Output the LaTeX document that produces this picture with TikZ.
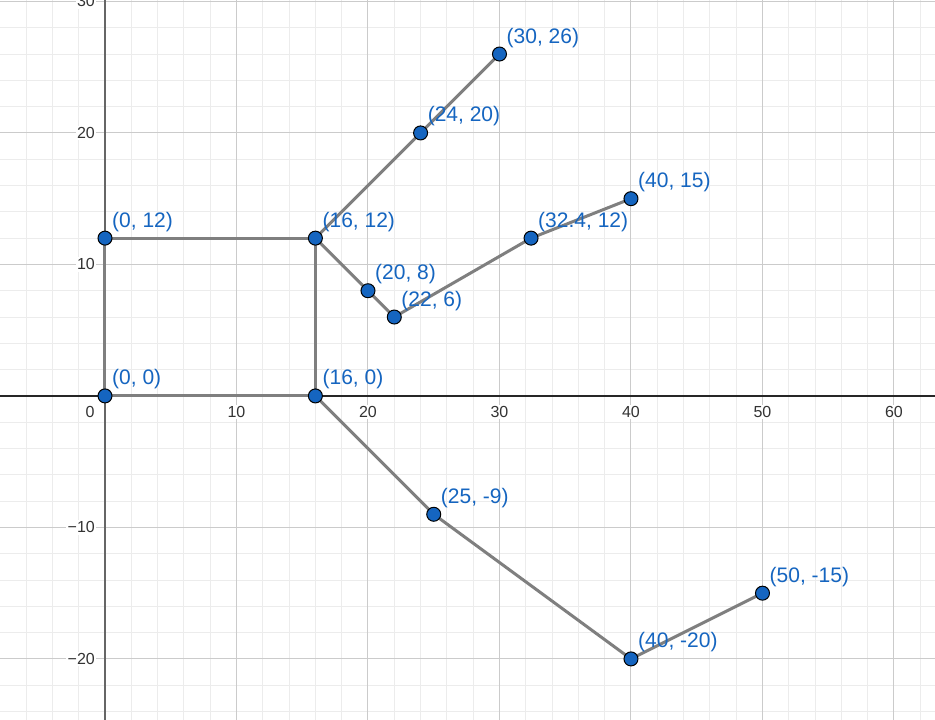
\documentclass[tikz,border=0pt]{standalone}
\usepackage{fontspec}
\setmainfont{Liberation Sans}
\definecolor{ptblue}{HTML}{1565C0}
\definecolor{seggray}{HTML}{7F7F7F}
\definecolor{majgrid}{HTML}{CBCBCB}
\definecolor{mingrid}{HTML}{ECECEC}
\definecolor{ticktxt}{HTML}{333333}
\definecolor{yaxis}{HTML}{666666}
\pgfdeclarelayer{gridlayer}
\pgfdeclarelayer{seglayer}
\pgfsetlayers{gridlayer,seglayer,main}
\begin{document}
\begin{tikzpicture}[x=13.15pt,y=13.15pt,
  pt/.style={circle,fill=ptblue,draw=black,line width=1pt,inner sep=0pt,minimum size=14pt},
  ptlabel/.style={anchor=base west,text=ptblue,font=\fontsize{21}{25}\selectfont,inner sep=0pt,xshift=7pt,yshift=11pt},
  seg/.style={draw=seggray,line width=3pt,line cap=round},
  ticklab/.style={fill=white,text=ticktxt,font=\fontsize{16}{19}\selectfont,inner sep=1.5pt}]
\useasboundingbox (-7.985,-24.64) rectangle (63.12,30.11);
\clip (-7.985,-24.64) rectangle (63.12,30.11);
\begin{pgfonlayer}{gridlayer}
  \fill[white] (-7.985,-24.64) rectangle (63.12,30.11);
  \draw[mingrid,line width=1pt] (-8,-26) grid[step=2] (64,32);
  \draw[majgrid,line width=1pt] (-10,-30) grid[step=10] (70,40);
  \draw[yaxis,line width=2pt] (0,-26) -- (0,32);
  \draw[black!85,line width=1.3pt] (-9,0) -- (65,0);
\end{pgfonlayer}
% tick labels
\node[ticklab] (x0) at (0,0) [xshift=-15pt,yshift=-16pt] {0};
\foreach \v in {10,20,30,40,50,60}{
  \node[ticklab] (x\v) at (\v,0) [yshift=-16pt] {\v};
}
\node[ticklab,anchor=east] (y10) at (0,10) [xshift=-8.5pt] {10};
\node[ticklab,anchor=east] (y20) at (0,20) [xshift=-8.5pt] {20};
\node[ticklab,anchor=east] (y30) at (0,30) [xshift=-8.5pt] {30};
\node[ticklab,anchor=east] (ym10) at (0,-10) [xshift=-8.5pt] {−10};
\node[ticklab,anchor=east] (ym20) at (0,-20) [xshift=-8.5pt] {−20};
% points
\node[pt] (a) at (0,0) {};
\node[pt] (b) at (0,12) {};
\node[pt] (c) at (16,12) {};
\node[pt] (d) at (16,0) {};
\node[pt] (e) at (24,20) {};
\node[pt] (f) at (30,26) {};
\node[pt] (g) at (20,8) {};
\node[pt] (h) at (22,6) {};
\node[pt] (i) at (32.4,12) {};
\node[pt] (j) at (40,15) {};
\node[pt] (k) at (25,-9) {};
\node[pt] (l) at (40,-20) {};
\node[pt] (m) at (50,-15) {};
% labels
\node[ptlabel] (la) at (a.center) {(0, 0)};
\node[ptlabel] (lb) at (b.center) {(0, 12)};
\node[ptlabel] (lc) at (c.center) {(16, 12)};
\node[ptlabel] (ld) at (d.center) {(16, 0)};
\node[ptlabel] (le) at (e.center) {(24, 20)};
\node[ptlabel] (lf) at (f.center) {(30, 26)};
\node[ptlabel] (lg) at (g.center) {(20, 8)};
\node[ptlabel] (lh) at (h.center) {(22, 6)};
\node[ptlabel] (li) at (i.center) {(32.4, 12)};
\node[ptlabel] (lj) at (j.center) {(40, 15)};
\node[ptlabel] (lk) at (k.center) {(25, -9)};
\node[ptlabel] (ll) at (l.center) {(40, -20)};
\node[ptlabel] (lm) at (m.center) {(50, -15)};
% segments
\begin{pgfonlayer}{seglayer}
  \draw[seg] (a.center) -- (b.center);
  \draw[seg] (b.center) -- (c.center);
  \draw[seg] (c.center) -- (d.center);
  \draw[seg] (d.center) -- (a.center);
  \draw[seg] (c.center) -- (e.center);
  \draw[seg] (e.center) -- (f.center);
  \draw[seg] (c.center) -- (g.center);
  \draw[seg] (g.center) -- (h.center);
  \draw[seg] (h.center) -- (i.center);
  \draw[seg] (i.center) -- (j.center);
  \draw[seg] (d.center) -- (k.center);
  \draw[seg] (k.center) -- (l.center);
  \draw[seg] (l.center) -- (m.center);
\end{pgfonlayer}
\end{tikzpicture}
\end{document}
